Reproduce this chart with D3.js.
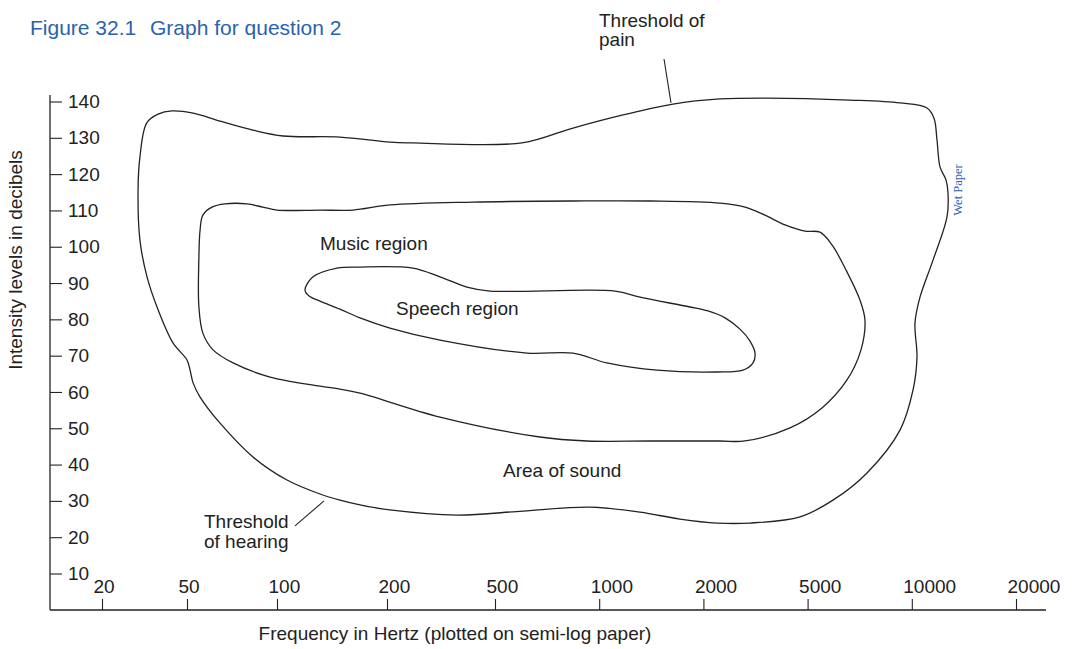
<!DOCTYPE html>
<html>
<head>
<meta charset="utf-8">
<script src="https://cdn.jsdelivr.net/npm/d3@7"></script>
<style>
  html, body { margin: 0; padding: 0; background: #ffffff; }
  svg { display: block; }
  text { font-family: "Liberation Sans", Arial, Helvetica, sans-serif; }
</style>
</head>
<body>
<svg id="chart" width="1089" height="649"></svg>
<script>
// ---------------- DATA ----------------
const freqTicks = [20, 50, 100, 200, 500, 1000, 2000, 5000, 10000, 20000];
const dbTicks = [140, 130, 120, 110, 100, 90, 80, 70, 60, 50, 40, 30, 20, 10];

// [frequency Hz, intensity dB] — outer boundary (threshold of pain on top, threshold of hearing below)
const areaOfSound = [
  [30.1, 124.7], [32.4, 134.1], [36.6, 136.5], [42.5, 137.4], [52.4, 136.8],
  [64.5, 134.6], [83.1, 132.1], [103.9, 130.5], [148.7, 130.2], [205, 128.8],
  [249, 128.6], [598, 128.6], [840, 132.7], [1172, 136.3], [1634, 139.3],
  [2314, 140.7], [3499, 140.95], [6629, 140.4], [9245, 139.6], [11064, 138.2],
  [11592, 135.4], [11825, 129.4], [12063, 122.0], [12554, 118.4], [12722, 114.8],
  [12638, 108.2], [11515, 96.3], [10560, 86.1], [10215, 79.0], [10352, 69.6],
  [10080, 60.5], [9245, 49.5], [7423, 37.7], [5920, 30.2], [4677, 25.6],
  [3013, 23.9], [2254, 23.9], [1711, 25.0], [1312, 26.9], [941, 28.3],
  [602, 27.2], [362, 26.1], [205, 27.5], [168.7, 28.9], [148.7, 30.2],
  [131.1, 31.9], [106.5, 35.75], [83.1, 42.1], [64.5, 51.4], [55.3, 58.6],
  [52.4, 62.5], [51.2, 66.0], [50, 68.8], [43.0, 73.5], [36.2, 83.4],
  [32.5, 91.7], [30.1, 101.8], [29.5, 115.6]
];

const musicRegion = [
  [55.3, 104.6], [56.5, 108.7], [60.6, 110.9], [67.0, 111.8], [79.4, 111.8],
  [89.8, 110.9], [100, 110.1], [131.1, 110.1], [161.4, 110.1], [205, 111.5],
  [415, 112.3], [840, 112.6], [1402, 112.6], [2314, 112.0], [2883, 110.9],
  [3438, 108.7], [4099, 106.0], [4887, 104.3], [5430, 104.0], [5881, 100.5],
  [6455, 93.6], [7085, 85.3], [7324, 79.8], [7132, 71.6], [6498, 63.3],
  [5502, 55.6], [4283, 50.1], [2883, 46.5], [2314, 46.5], [1402, 46.5],
  [922, 46.5], [674, 47.6], [313.5, 53.1], [168.7, 59.7], [148.7, 60.8],
  [131.1, 61.6], [94.8, 64.1], [71.3, 68.0], [61.1, 71.6], [56.5, 76.2],
  [54.8, 83.4], [54.8, 97.2]
];

const speechRegion = [
  [119.3, 88.1], [125.5, 91.7], [146, 94.1], [168.7, 94.4], [249, 94.1],
  [313.5, 91.7], [394, 88.9], [479, 87.8], [1111, 87.8], [1312, 86.1],
  [1830, 83.4], [2083, 82.3], [2419, 80.4], [2759, 77.3], [3013, 74.0],
  [3149, 70.7], [3094, 68.0], [2833, 66.0], [2254, 65.5], [1469, 66.0],
  [1053, 68.0], [840, 70.7], [618.6, 70.7], [313.5, 74.3], [205, 77.6],
  [168.7, 80.4], [148.7, 82.8], [131.1, 85.0], [122.4, 86.4]
];

const painPointer = [[1539, 151.7], [1612, 139.6]];
const hearingPointer = [[112, 23.1], [134.5, 30.0]];

// ---------------- CHART ----------------
const svg = d3.select("#chart");
const ink = "#222222";
const blue = "#2b62ad";

// x positions of the (hand-spaced) frequency ticks on the semi-log paper
const tickPos = d3.scaleLinear().domain([0, 1, 2, 3, 4, 9]).range([102, 187, 277, 387, 495, 1016]);
const x = d3.scaleLog()
  .domain(freqTicks)
  .range(freqTicks.map((d, i) => tickPos(i)));
const y = d3.scaleLinear().domain([10, 140]).range([573.5, 101.5]);

const axisLeftX = 50, axisBottomY = 610, axisTopY = 95, axisRightX = 1046;

// Y axis
const yAxis = d3.axisRight(y).tickValues(dbTicks).tickSize(12).tickSizeOuter(0).tickPadding(6);
const gy = svg.append("g").attr("transform", `translate(${axisLeftX},0)`).call(yAxis);
gy.select(".domain").remove();
gy.selectAll(".tick line").attr("stroke", ink).attr("stroke-width", 1.1);
gy.selectAll(".tick text").attr("fill", ink).style("font-size", "19px")
  .style("font-family", '"Liberation Sans", Arial, sans-serif');
svg.append("line")
  .attr("x1", axisLeftX).attr("x2", axisLeftX)
  .attr("y1", axisTopY).attr("y2", axisBottomY)
  .attr("stroke", ink).attr("stroke-width", 1.3);

// X axis
const xAxis = d3.axisTop(x).tickValues(freqTicks).tickFormat(d => String(d))
  .tickSize(11).tickSizeOuter(0).tickPadding(6);
const gx = svg.append("g").attr("transform", `translate(0,${axisBottomY})`).call(xAxis);
gx.select(".domain").remove();
gx.selectAll(".tick line").attr("stroke", ink).attr("stroke-width", 1.1);
gx.selectAll(".tick text").attr("fill", ink).style("font-size", "19px")
  .style("font-family", '"Liberation Sans", Arial, sans-serif')
  .attr("text-anchor", "start").attr("dx", -9);
svg.append("line")
  .attr("x1", axisLeftX).attr("x2", axisRightX)
  .attr("y1", axisBottomY).attr("y2", axisBottomY)
  .attr("stroke", ink).attr("stroke-width", 1.3);

// Regions
const closed = d3.line()
  .x(d => x(d[0])).y(d => y(d[1]))
  .curve(d3.curveCatmullRomClosed.alpha(0.5));
[areaOfSound, musicRegion, speechRegion].forEach(pts => {
  svg.append("path").attr("d", closed(pts))
    .attr("fill", "none").attr("stroke", ink).attr("stroke-width", 1.3);
});

// Pointers
const straight = d3.line().x(d => x(d[0])).y(d => y(d[1]));
[painPointer, hearingPointer].forEach(pts => {
  svg.append("path").attr("d", straight(pts))
    .attr("fill", "none").attr("stroke", ink).attr("stroke-width", 1.1);
});

// Texts
function label(txt, px, py, opts = {}) {
  return svg.append("text").attr("x", px).attr("y", py)
    .attr("fill", opts.fill || ink)
    .style("font-size", (opts.size || 19) + "px")
    .attr("text-anchor", opts.anchor || "start")
    .text(txt);
}
const title = svg.append("text").attr("x", 30).attr("y", 35).attr("fill", blue).style("font-size", "21px");
title.append("tspan").text("Figure 32.1");
title.append("tspan").attr("x", 150).text("Graph for question 2");

label("Threshold of", 599, 27);
label("pain", 599, 46);
label("Music region", 320, 250);
label("Speech region", 396, 315);
label("Area of sound", 503, 477);
label("Threshold", 204, 528);
label("of hearing", 204, 548);

// axis titles
svg.append("text")
  .attr("transform", "translate(22,260) rotate(-90)")
  .attr("text-anchor", "middle").attr("fill", ink).style("font-size", "19px")
  .text("Intensity levels in decibels");
label("Frequency in Hertz (plotted on semi-log paper)", 455, 640, { anchor: "middle" });

// side note
svg.append("text")
  .attr("transform", "translate(962,190) rotate(-90)")
  .attr("text-anchor", "middle").attr("fill", blue)
  .style("font-family", '"Liberation Serif", "Times New Roman", serif')
  .style("font-size", "12.5px")
  .text("Wet Paper");
</script>
</body>
</html>
